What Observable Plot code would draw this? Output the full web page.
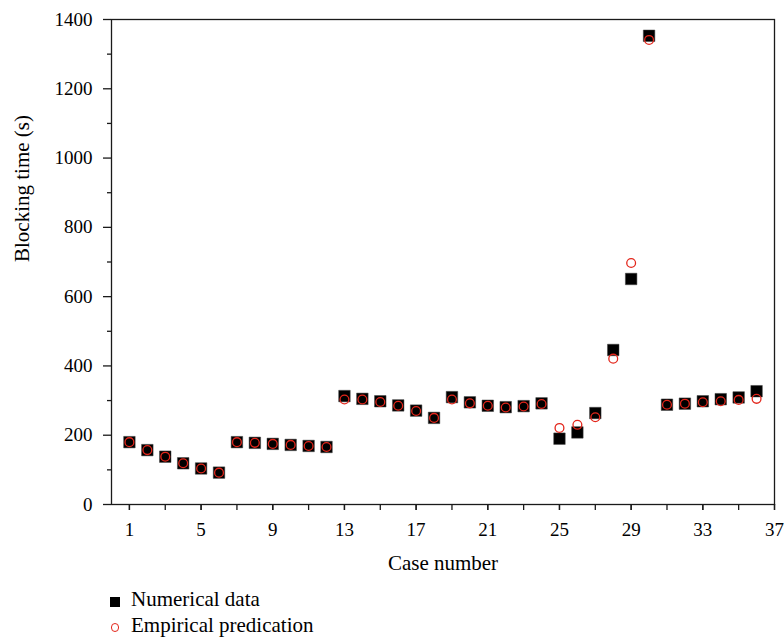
<!DOCTYPE html>
<html>
<head>
<meta charset="utf-8">
<script src="https://cdn.jsdelivr.net/npm/d3@7"></script>
<script src="https://cdn.jsdelivr.net/npm/@observablehq/plot@0.6"></script>
<style>
  html, body { margin: 0; padding: 0; background: #fff; }
  #wrap { position: relative; width: 784px; height: 637px; font-family: 'Liberation Serif'; color: #000; }
  .lg { position: absolute; font-family: 'Liberation Serif'; font-size: 21px; line-height: 21px; white-space: nowrap; }
</style>
</head>
<body>
<div id="wrap">
  <div id="chart"></div>
  <div class="lg" style="left:110px; top:597px; width:10px; height:10px; background:#000;"></div>
  <div class="lg" style="left:131px; top:589px;">Numerical data</div>
  <div class="lg" style="left:110.5px; top:623px; width:6.6px; height:6.6px; border:1.3px solid #e3261b; border-radius:50%;"></div>
  <div class="lg" style="left:131px; top:615px;">Empirical predication</div>
</div>
<script>
const cases = [1,2,3,4,5,6,7,8,9,10,11,12,13,14,15,16,17,18,19,20,21,22,23,24,25,26,27,28,29,30,31,32,33,34,35,36];
const numerical = [180,157,138,119,104,92,180,178,175,172,169,166,313,305,298,286,271,250,310,295,285,281,284,292,190,208,264,446,651,1353,288,291,298,304,309,327];
const empirical = [180,157,138,119,104,92,180,178,175,172,169,166,303,303,296,285,270,250,303,292,285,280,283,290,221,230,252,421,697,1341,288,291,295,298,302,305];
const xTicks = [1,5,9,13,17,21,25,29,33,37];
const xMinorTicks = [1,3,5,7,9,11,13,15,17,19,21,23,25,27,29,31,33,35,37];
const yTicks = [0,200,400,600,800,1000,1200,1400];
const yMinorTicks = [100,300,500,700,900,1100,1300];
const xLabel = "Case number";
const yLabel = "Blocking time (s)";

const numData = cases.map((c, i) => ({c, v: numerical[i]}));
const empData = cases.map((c, i) => ({c, v: empirical[i]}));
const serif = "Liberation Serif";

const chart = Plot.plot({
  width: 784,
  height: 580,
  marginLeft: 111,
  marginRight: 10,
  marginTop: 19,
  marginBottom: 76,
  x: {domain: [0, 37]},
  y: {domain: [0, 1400]},
  style: {fontFamily: "'Liberation Serif'", fontSize: "19px", color: "#000", background: "#fff"},
  marks: [
    Plot.axisY({ticks: yMinorTicks, tickSize: 4, text: null, label: null, stroke: "#1a1a1a", strokeWidth: 1.3}),
    Plot.axisY({ticks: yTicks, tickSize: 8, tickPadding: 11, tickFormat: d => String(d), label: null, stroke: "#1a1a1a", strokeWidth: 1.3, fontSize: 19, fontFamily: serif}),
    Plot.axisX({ticks: xMinorTicks, tickSize: 6, text: null, label: null, stroke: "#1a1a1a", strokeWidth: 1.3}),
    Plot.axisX({ticks: xTicks, tickSize: 6, tickPadding: 12, tickFormat: d => String(d), label: null, stroke: "#1a1a1a", strokeWidth: 1.3, fontSize: 19, fontFamily: serif}),
    Plot.frame({stroke: "#1a1a1a", strokeWidth: 1.3}),
    Plot.dot(numData, {x: "c", y: "v", symbol: "square", r: 6.5, fill: "#000", stroke: "#444", strokeWidth: 0.5}),
    Plot.dot(empData, {x: "c", y: "v", symbol: "circle", r: 4.4, fill: "none", stroke: "#e3261b", strokeWidth: 1.3}),
    Plot.text([xLabel], {frameAnchor: "bottom", dy: 59, lineAnchor: "middle", fontSize: 21, fontFamily: serif, fill: "#000"}),
    Plot.text([yLabel], {frameAnchor: "left", dx: -89, rotate: -90, lineAnchor: "middle", fontSize: 21, fontFamily: serif, fill: "#000"})
  ]
});
document.getElementById("chart").appendChild(chart);
</script>
</body>
</html>
